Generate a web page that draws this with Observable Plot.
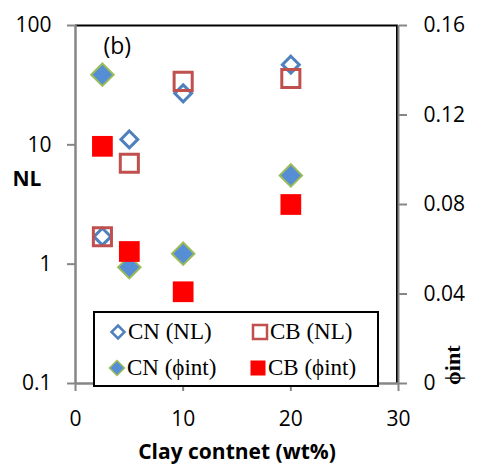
<!DOCTYPE html>
<html>
<head>
<meta charset="utf-8">
<script src="https://cdn.jsdelivr.net/npm/d3@7"></script>
<script src="https://cdn.jsdelivr.net/npm/@observablehq/plot@0.6"></script>
<style>
  body { margin: 0; background: #fff; }
  #wrap { position: relative; width: 480px; height: 470px; }
  #legend {
    position: absolute; left: 93px; top: 311px; width: 282px; height: 72px;
    border: 2px solid #000; background: #fff;
  }
  .item {
    position: absolute; display: flex; align-items: center; height: 24px;
    font-family: "Liberation Serif", "Times New Roman", serif; font-size: 23px; line-height: 24px;
    white-space: nowrap;
  }
  .item svg { width: 18px; height: 18px; margin-right: 1px; flex: none; }
</style>
</head>
<body>
<div id="wrap"></div>
<script>
// Clay content (wt%) for each sample
const clay = [2.5, 5, 10, 20];
// NL values (left, log axis)
const cnNL = [1.7, 11.1, 27, 47];
const cbNL = [1.7, 7.0, 34, 36];
// ϕint values (right, linear axis)
const cnPhi = [0.138, 0.052, 0.058, 0.093];
const cbPhi = [0.106, 0.059, 0.041, 0.080];

const xTicks = [0, 10, 20, 30];
const nlTicks = [0.1, 1, 10, 100];
const phiTicks = [0, 0.04, 0.08, 0.12, 0.16];
const seriesNames = ["CN (NL)", "CB (NL)", "CN (ϕint)", "CB (ϕint)"];

// ϕint (linear 0–0.16) is placed on the shared log scale (0.1–100)
const phiMax = 0.16;
const phiToNL = v => 10 ** (-1 + 3 * v / phiMax);
const fmtPhi = v => (v === 0 ? "0" : v.toFixed(2));

const rows = (ys, f = d => d) => clay.map((x, i) => ({x, y: f(ys[i])}));

const gray = "#868686";
const blue = "#4F81BD";
const blueFill = "#558ED5";
const green = "#9BBB59";
const brick = "#C0504D";
const red = "#FF0000";
const sans = "'Open Sans', sans-serif";
const serif = "'Liberation Serif', 'Times New Roman', serif";

const chart = Plot.plot({
  width: 480,
  height: 470,
  marginLeft: 75,
  marginRight: 82,
  marginTop: 25,
  marginBottom: 87,
  x: {domain: [0, 30]},
  y: {type: "log", domain: [0.1, 100]},
  style: {fontFamily: sans, background: "white", color: "black"},
  marks: [
    // plot-area border and axis lines
    Plot.ruleY([100], {stroke: "black", strokeWidth: 2}),
    Plot.ruleX([30], {stroke: "black", strokeWidth: 2, dx: -1.5}),
    Plot.ruleX([30], {stroke: gray, strokeWidth: 2, y1: 0.1, y2: 100}),
    Plot.ruleX([0], {stroke: gray, strokeWidth: 2.5, y1: 0.1, y2: 100}),
    Plot.ruleY([0.1], {stroke: gray, strokeWidth: 2.5}),

    // left NL axis (log)
    Plot.axisY(nlTicks, {
      anchor: "left", tickSize: 8, tickPadding: 16, stroke: gray, strokeWidth: 2,
      fill: "black", fontSize: 21, tickFormat: d => String(d), label: null
    }),
    // right ϕint axis: tick marks, then the linear labels
    Plot.axisY(phiTicks.map(phiToNL), {
      anchor: "right", tickSize: 8, stroke: gray, strokeWidth: 2,
      tickFormat: () => "", label: null
    }),
    Plot.text(phiTicks, {
      y: phiToNL, text: fmtPhi, frameAnchor: "right", dx: 25,
      textAnchor: "start", fontSize: 21
    }),
    // bottom axis
    Plot.axisX(xTicks, {
      anchor: "bottom", tickSize: 8, tickPadding: 20, stroke: gray, strokeWidth: 2,
      fill: "black", fontSize: 21, label: null
    }),

    // axis titles and panel tag
    Plot.text(["NL"], {frameAnchor: "left", dx: -63, dy: -25, fontWeight: "bold", fontSize: 21}),
    Plot.text(["ϕint"], {
      frameAnchor: "bottom-right", dx: 61, dy: -38, rotate: -90,
      fontFamily: serif, fontWeight: "bold", fontSize: 22
    }),
    Plot.text(["Clay contnet (wt%)"], {frameAnchor: "bottom", dy: 75, fontWeight: "bold", fontSize: 21}),
    Plot.text(["(b)"], {frameAnchor: "top-left", dx: 28, dy: 12, fontSize: 23, textAnchor: "start", lineAnchor: "top"}),

    // NL series
    Plot.dot(rows(cnNL), {x: "x", y: "y", symbol: "diamond2", r: 7.6, fill: "none", stroke: blue, strokeWidth: 3}),
    Plot.dot(rows(cbNL), {x: "x", y: "y", symbol: "square", r: 10.2, fill: "none", stroke: brick, strokeWidth: 3}),
    // ϕint series
    Plot.dot(rows(cnPhi, phiToNL), {x: "x", y: "y", symbol: "diamond2", r: 10.1, fill: blueFill, stroke: green, strokeWidth: 2}),
    Plot.dot(rows(cbPhi, phiToNL), {x: "x", y: "y", symbol: "square", r: 11.7, fill: red, stroke: "none"})
  ]
});

const wrap = document.getElementById("wrap");
wrap.appendChild(chart);

// legend
const legendSymbols = [
  `<path d="M9,2.5L15.5,9L9,15.5L2.5,9Z" fill="none" stroke="${blue}" stroke-width="2.5"/>`,
  `<rect x="2" y="2" width="14" height="14" fill="none" stroke="${brick}" stroke-width="2.5"/>`,
  `<path d="M9,1.5L16.5,9L9,16.5L1.5,9Z" fill="${blueFill}" stroke="${green}" stroke-width="1.5"/>`,
  `<rect x="1.5" y="1.5" width="15" height="15" fill="${red}"/>`
];
const legendLeft = [14, 156, 13, 154];
const legendTop = [6.5, 6.5, 43, 43];

const legend = document.createElement("div");
legend.id = "legend";
seriesNames.forEach((name, i) => {
  const item = document.createElement("div");
  item.className = "item";
  item.style.left = legendLeft[i] + "px";
  item.style.top = legendTop[i] + "px";
  item.innerHTML = `<svg viewBox="0 0 18 18">${legendSymbols[i]}</svg><span>${name}</span>`;
  legend.appendChild(item);
});
wrap.appendChild(legend);
</script>
</body>
</html>
